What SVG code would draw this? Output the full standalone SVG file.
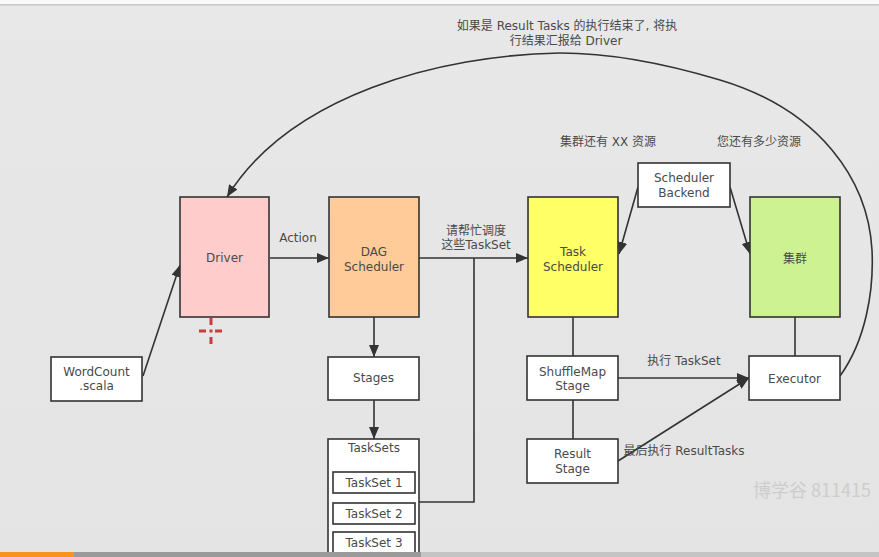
<svg xmlns="http://www.w3.org/2000/svg" width="879" height="557" viewBox="0 0 879 557">
<defs>
<marker id="ah" markerUnits="userSpaceOnUse" markerWidth="13" markerHeight="11" refX="12" refY="5" orient="auto">
<path d="M0,0 L12,5 L0,10 z" fill="#333"/>
</marker>
<linearGradient id="bgg" x1="0" y1="0" x2="0" y2="1">
<stop offset="0" stop-color="#e8e8e8"/>
<stop offset="1" stop-color="#e4e4e4"/>
</linearGradient>
</defs>
<style>
.box{stroke:#333;stroke-width:1.6}
.t{font-family:"DejaVu Sans","Noto Sans CJK SC",sans-serif;font-size:12px;fill:#4a4a4a;text-anchor:middle}
.lbl{font-family:"DejaVu Sans","Noto Sans CJK SC",sans-serif;font-size:12px;fill:#4a4a4a;text-anchor:middle}
.ln{stroke:#333;stroke-width:1.6;fill:none}
</style>
<rect x="0" y="0" width="879" height="557" fill="url(#bgg)"/>
<rect x="0" y="0" width="879" height="4" fill="#fafafa"/>
<rect x="0" y="4" width="879" height="1.5" fill="#c8c8c8"/>

<g id="connectors">
<path class="ln" d="M143,376 L180,265" marker-end="url(#ah)"/>
<path class="ln" d="M270,258 L329,258" marker-end="url(#ah)"/>
<path class="ln" d="M419,258 L528,258" marker-end="url(#ah)"/>
<path class="ln" d="M419,502 L474,502 L474,258"/>
<path class="ln" d="M374,317 L374,357" marker-end="url(#ah)"/>
<path class="ln" d="M374,400 L374,439" marker-end="url(#ah)"/>
<path class="ln" d="M573,317 L573,356"/>
<path class="ln" d="M573,400 L573,439"/>
<path class="ln" d="M618,378 L749,378" marker-end="url(#ah)"/>
<path class="ln" d="M618,461 L749,378" marker-end="url(#ah)"/>
<path class="ln" d="M638,187 L619,254" marker-end="url(#ah)"/>
<path class="ln" d="M730,187 L750,254" marker-end="url(#ah)"/>
<path class="ln" d="M795,317 L795,356"/>
<path class="ln" d="M840,376 C866,340 874,290 872,250 C868,180 820,110 720,80 C660,62 610,53 560,53 C440,55 290,95 227,197" marker-end="url(#ah)"/>
<text class="lbl" x="298" y="242">Action</text>
<text class="lbl" x="476" y="235">请帮忙调度</text>
<text class="lbl" x="476" y="249">这些TaskSet</text>
<text class="lbl" x="684" y="365">执行 TaskSet</text>
<text class="lbl" x="684" y="455">最后执行 ResultTasks</text>
</g>

<g id="driver">
<rect class="box" x="180" y="197" width="89" height="120" fill="#ffcccc"/>
<text class="t" x="224.5" y="262">Driver</text>
</g>
<g id="dag-scheduler">
<rect class="box" x="329" y="197" width="90" height="120" fill="#ffcc99"/>
<text class="t" x="374" y="256">DAG</text>
<text class="t" x="374" y="271">Scheduler</text>
</g>
<g id="task-scheduler">
<rect class="box" x="528" y="197" width="90" height="120" fill="#ffff66"/>
<text class="t" x="573" y="256">Task</text>
<text class="t" x="573" y="271">Scheduler</text>
</g>
<g id="cluster">
<rect class="box" x="750" y="197" width="90" height="120" fill="#ccf291"/>
<text class="t" x="795" y="263">集群</text>
</g>
<g id="scheduler-backend">
<rect class="box" x="638" y="163" width="92" height="44" fill="#ffffff"/>
<text class="t" x="684" y="182">Scheduler</text>
<text class="t" x="684" y="197">Backend</text>
</g>
<g id="wordcount">
<rect class="box" x="51" y="357" width="91" height="44" fill="#ffffff"/>
<text class="t" x="96.5" y="376">WordCount</text>
<text class="t" x="96.5" y="390">.scala</text>
</g>
<g id="stages">
<rect class="box" x="328" y="357" width="91" height="43" fill="#ffffff"/>
<text class="t" x="373.5" y="382">Stages</text>
</g>
<g id="tasksets">
<rect class="box" x="328" y="439" width="91" height="130" fill="#ffffff"/>
<text class="t" x="374" y="452">TaskSets</text>
</g>
<g id="taskset1">
<rect class="box" x="333" y="472" width="82" height="21" fill="#ffffff"/>
<text class="t" x="374" y="487">TaskSet 1</text>
</g>
<g id="taskset2">
<rect class="box" x="333" y="503" width="82" height="21" fill="#ffffff"/>
<text class="t" x="374" y="518">TaskSet 2</text>
</g>
<g id="taskset3">
<rect class="box" x="333" y="532" width="82" height="21" fill="#ffffff"/>
<text class="t" x="374" y="547">TaskSet 3</text>
</g>
<g id="shufflemap-stage">
<rect class="box" x="527" y="356" width="91" height="44" fill="#ffffff"/>
<text class="t" x="572.5" y="376">ShuffleMap</text>
<text class="t" x="572.5" y="390">Stage</text>
</g>
<g id="result-stage">
<rect class="box" x="527" y="439" width="91" height="44" fill="#ffffff"/>
<text class="t" x="572.5" y="458">Result</text>
<text class="t" x="572.5" y="473">Stage</text>
</g>
<g id="executor">
<rect class="box" x="749" y="356" width="91" height="44" fill="#ffffff"/>
<text class="t" x="794.5" y="383">Executor</text>
</g>

<text class="lbl" x="567" y="30">如果是 Result Tasks 的执行结束了, 将执</text>
<text class="lbl" x="566" y="45">行结果汇报给 Driver</text>
<text class="lbl" x="608" y="146">集群还有 XX 资源</text>
<text class="lbl" x="759" y="146">您还有多少资源</text>

<g id="cursor" fill="#cc3a3a">
<rect x="209.5" y="318" width="3" height="7"/>
<rect x="209.5" y="337" width="3" height="7"/>
<rect x="199" y="329.5" width="7" height="3"/>
<rect x="215" y="329.5" width="7" height="3"/>
<rect x="209.5" y="329.5" width="3" height="3"/>
</g>

<text x="753" y="497" font-family="'Noto Sans CJK SC','DejaVu Sans',sans-serif" font-size="18" fill="#cdcdcd">博学谷 811415</text>

<rect x="0" y="552" width="879" height="5" fill="#c4c4c4"/>
<rect x="74" y="552" width="347" height="5" fill="#9a9a9a"/>
<rect x="0" y="552" width="74" height="5" fill="#f7931e"/>
</svg>
